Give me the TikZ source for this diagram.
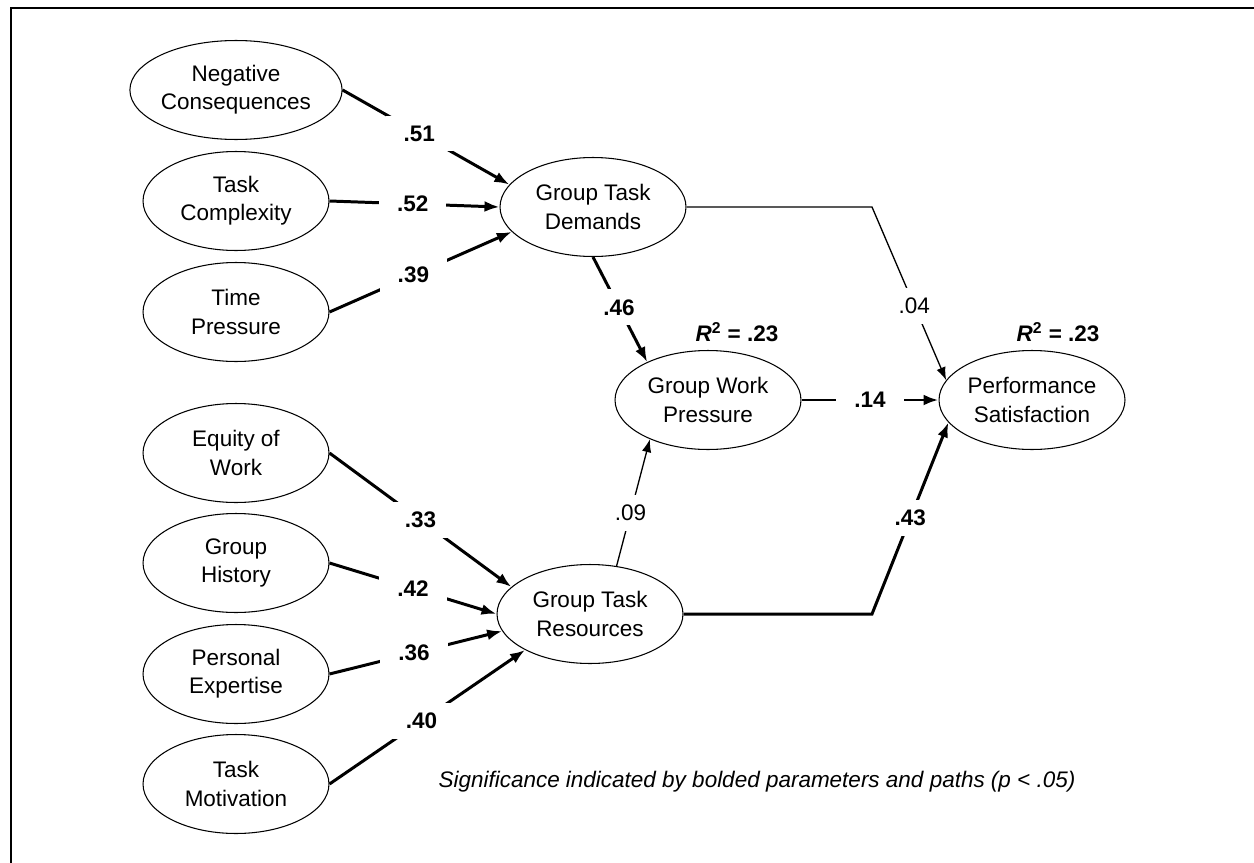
\documentclass[tikz,border=0pt]{standalone}
\usepackage{fontspec}
\setmainfont{Liberation Sans}
\usetikzlibrary{shapes.geometric,arrows.meta}

\begin{document}
\begin{tikzpicture}[x=0.02cm,y=-0.02cm,
        font=\fontsize{12.8}{16}\selectfont,
        latent/.style={draw,ellipse,line width=0.6pt,minimum width=3.72cm,minimum height=1.98cm,inner sep=0pt,align=center},
        sig/.style={line width=1.7pt,-{Latex[length=0.3cm,width=0.22cm]}},
        nonsig/.style={line width=0.75pt,-{Latex[length=0.26cm,width=0.19cm]}},
        coef/.style={fill=white,inner xsep=0.36cm,inner ysep=0.2cm}]
                \useasboundingbox (0,0) rectangle (1254,862);
                \draw[line width=1.5pt] (11,870) -- (11,8) -- (1260,8);
                % indicators on the left
                \foreach \n/\y/\t in {nc/90/{Negative\\Consequences},tc/201/{Task\\Complexity},tp/312/{Time\\Pressure},
                                      ew/453/{Equity of\\Work},gh/563/{Group\\History},pe/674/{Personal\\Expertise},tm/784/{Task\\Motivation}} {
                    \node[latent] (\n) at (236,\y) {\t};
                }
                \node[latent] (gtd) at (593,207) {Group Task\\Demands};
                \node[latent] (gtr) at (590,614) {Group Task\\Resources};
                \node[latent] (gwp) at (708,400) {Group Work\\Pressure};
                \node[latent] (ps) at (1032,400) {Performance\\Satisfaction};
                \node (gwpr) at (737,332) {\textbf{\textit{R}\textsuperscript{2} = .23}};
                \node (psr) at (1058,332) {\textbf{\textit{R}\textsuperscript{2} = .23}};
                \coordinate (dbend) at (872,207);
                \coordinate (rbend) at (872,614);
                % loadings
                \foreach \a/\b/\v/\p in {nc/gtd.165/.51/0.46,tc/gtd.west/.52/0.49,tp/gtd.197/.39/0.46,
                                         ew/gtr.161/.33/0.5,gh/gtr.west/.42/0.5,pe/gtr.191/.36/0.49,tm/gtr.209/.40/0.47} {
                    \draw[sig] (\a.east) -- (\b) node[coef,pos=\p] {\textbf{\v}};
                }
                % structural paths
                \draw[sig] (gtd.south) -- (gwp.148) node[coef,pos=0.48] {\textbf{.46}};
                \draw[nonsig] (gtr.61) -- (gwp.214) node[coef,pos=0.42] {.09};
                \draw[sig] (gwp.east) -- (ps.west) node[coef,pos=0.5] {\textbf{.14}};
                \draw[nonsig] (gtd.east) -- (dbend) -- (ps.167) node[coef,pos=0.57] {.04};
                \draw[sig] (gtr.east) -- (rbend) -- (ps.195) node[coef,pos=0.5] {\textbf{.43}};
                \node (note) at (757,782) {\itshape Significance indicated by bolded parameters and paths (p < .05)};
\end{tikzpicture}
\end{document}
